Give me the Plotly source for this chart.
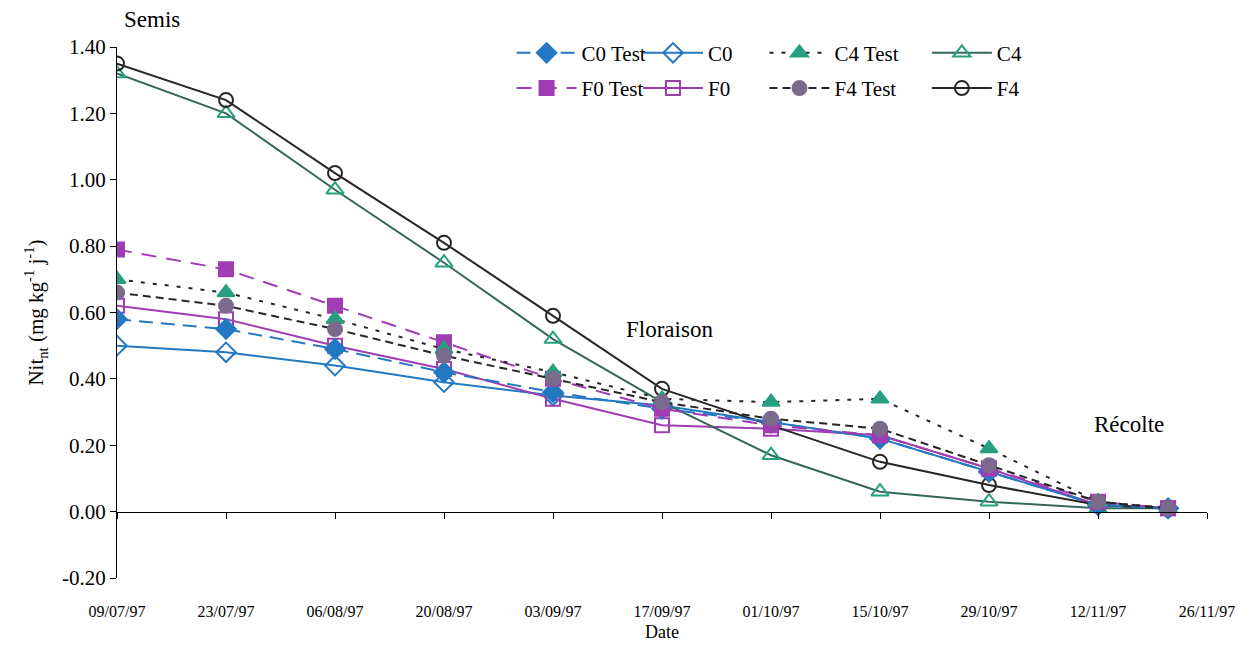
import plotly.graph_objects as go

dates = ["1997-07-09", "1997-07-23", "1997-08-06", "1997-08-20", "1997-09-03", "1997-09-17",
         "1997-10-01", "1997-10-15", "1997-10-29", "1997-11-12", "1997-11-21"]

c0_test = [0.58, 0.55, 0.49, 0.42, 0.36, 0.31, 0.27, 0.22, 0.12, 0.02, 0.01]
c0 = [0.50, 0.48, 0.44, 0.39, 0.35, 0.32, 0.27, 0.22, 0.12, 0.02, 0.01]
f0_test = [0.79, 0.73, 0.62, 0.51, 0.40, 0.31, 0.26, 0.23, 0.13, 0.03, 0.01]
f0 = [0.62, 0.58, 0.50, 0.43, 0.34, 0.26, 0.25, 0.23, 0.13, 0.02, 0.01]
c4_test = [0.70, 0.66, 0.58, 0.49, 0.42, 0.34, 0.33, 0.34, 0.19, 0.03, 0.01]
c4 = [1.32, 1.20, 0.97, 0.75, 0.52, 0.33, 0.17, 0.06, 0.03, 0.01, 0.01]
f4_test = [0.66, 0.62, 0.55, 0.47, 0.40, 0.33, 0.28, 0.25, 0.14, 0.03, 0.01]
f4 = [1.35, 1.24, 1.02, 0.81, 0.59, 0.37, 0.26, 0.15, 0.08, 0.02, 0.01]

y_ticks = [-0.2, 0.0, 0.2, 0.4, 0.6, 0.8, 1.0, 1.2, 1.4]
y_ticktext = [f"{v:.2f}" for v in y_ticks]

x_range = ["1997-07-09", "1997-11-26"]
y_range = [-0.2, 1.4]

BLUE = "#2279C2"
PURPLE = "#A03CB4"
TEAL = "#27A080"
C4LINE = "#35675A"
DARK = "#262626"
GREYP = "#7A6B8C"
FONT = "Liberation Serif, Times New Roman, serif"

fig = go.Figure()

def add(name, y, color, dash, symbol, mcolor, mline, legend, size=14, width=2):
    fig.add_trace(go.Scatter(
        x=dates, y=y, name=name, mode="lines+markers",
        line=dict(color=color, width=width, dash=dash),
        marker=dict(symbol=symbol, size=size, color=mcolor,
                    line=dict(color=mline, width=2)),
        legend=legend, legendgroup=name,
    ))

# draw order: plain series first, test series on top
add("C0", c0, BLUE, "solid", "diamond-open", BLUE, BLUE, "legend2", 15)
add("F0", f0, PURPLE, "solid", "square-open", PURPLE, PURPLE, "legend2", 14)
add("C4", c4, C4LINE, "solid", "triangle-up-open", TEAL, TEAL, "legend4", 15)
add("F4", f4, DARK, "solid", "circle-open", DARK, DARK, "legend4", 14)
add("C0 Test", c0_test, BLUE, "14px,8px", "diamond", BLUE, BLUE, "legend", 15)
add("F0 Test", f0_test, PURPLE, "15px,10px", "square", PURPLE, PURPLE, "legend", 14)
add("C4 Test", c4_test, DARK, "4px,8px", "triangle-up", TEAL, TEAL, "legend3", 15)
add("F4 Test", f4_test, DARK, "8px,5px", "circle", GREYP, GREYP, "legend3", 14)

# helper trace for the axis line drawn at y = 0
fig.add_trace(go.Scatter(x=[dates[0]], y=[None], xaxis="x2", showlegend=False,
                         hoverinfo="skip", mode="markers"))

DAY14 = 14 * 24 * 3600 * 1000

leg_common = dict(orientation="v", bgcolor="rgba(0,0,0,0)", borderwidth=0,
                  font=dict(family=FONT, size=21, color="black"),
                  tracegroupgap=5, yanchor="top", y=1.027, xanchor="left", itemwidth=60)

fig.update_layout(
    width=1241, height=643,
    margin=dict(l=109, r=42, t=39, b=73),
    paper_bgcolor="white", plot_bgcolor="white",
    font=dict(family=FONT, color="black"),
    xaxis=dict(
        type="date", range=x_range, tick0=x_range[0], dtick=DAY14,
        tickformat="%d/%m/%y", showgrid=False, showline=False, zeroline=False,
        ticks="", ticklabelstandoff=22,
        tickfont=dict(family=FONT, size=16, color="black"),
        title=dict(text="Date", font=dict(family=FONT, size=18, color="black"), standoff=6),
    ),
    xaxis2=dict(
        type="date", range=x_range, tick0=x_range[0], dtick=DAY14,
        overlaying="x", anchor="free", position=0.125,
        showline=True, linecolor="black", linewidth=1, ticks="outside", ticklen=6,
        tickcolor="black", showticklabels=False, showgrid=False, zeroline=False,
    ),
    yaxis=dict(
        range=y_range, tickmode="array", tickvals=y_ticks, ticktext=y_ticktext,
        showgrid=False, zeroline=False,
        showline=True, linecolor="black", linewidth=1, ticks="outside", ticklen=6,
        tickcolor="black", tickfont=dict(family=FONT, size=21, color="black"),
        title=dict(text="Nit<sub>nt</sub> (mg kg<sup>-1</sup> j<sup>-1</sup>)",
                   font=dict(family=FONT, size=21, color="black"), standoff=12),
    ),
    legend=dict(x=0.362, **leg_common),
    legend2=dict(x=0.478, **leg_common),
    legend3=dict(x=0.594, **leg_common),
    legend4=dict(x=0.743, **leg_common),
    showlegend=True,
)

ann_font = dict(family=FONT, size=23, color="black")
fig.add_annotation(xref="paper", yref="paper", x=0.032, y=1.051, text="Semis",
                   xanchor="center", yanchor="middle", showarrow=False, font=ann_font)
fig.add_annotation(x="1997-09-18", y=0.548, text="Floraison", showarrow=False, font=ann_font)
fig.add_annotation(x="1997-11-16", y=0.262, text="Récolte", showarrow=False, font=ann_font)

fig.write_html("out.html")
